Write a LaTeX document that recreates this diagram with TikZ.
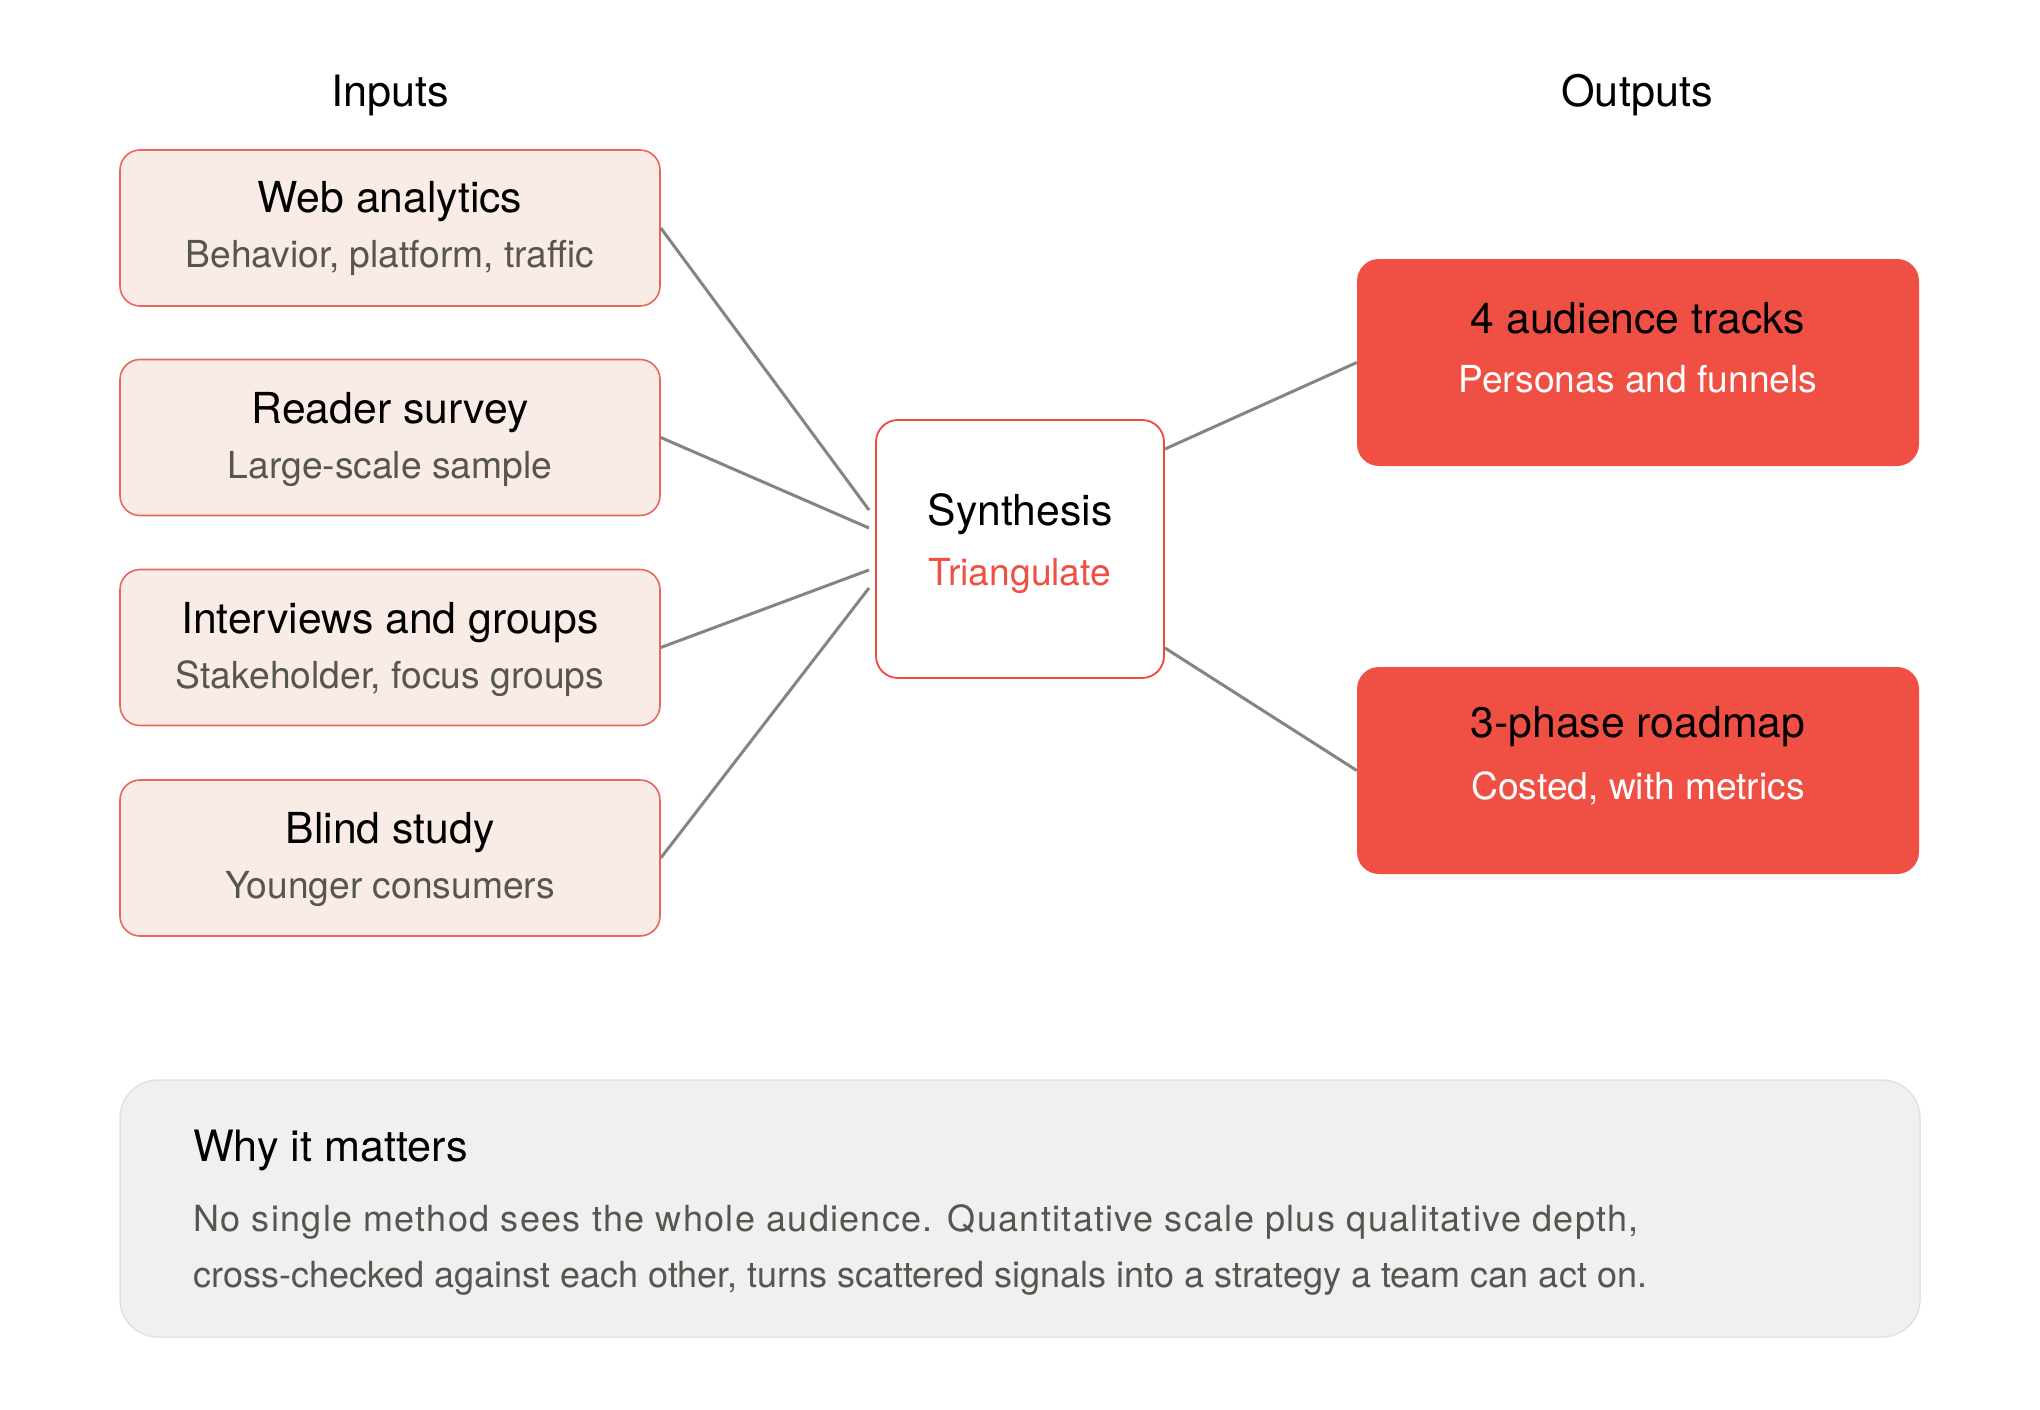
\documentclass[tikz,border=0pt]{standalone}
\usepackage{fontspec}
\setmainfont{TeX Gyre Heros}
\usetikzlibrary{calc}
\definecolor{inFill}{HTML}{F9EBE6}
\definecolor{inDraw}{HTML}{E8675C}
\definecolor{redC}{HTML}{F04F43}
\definecolor{synDraw}{HTML}{F04840}
\definecolor{lineC}{HTML}{85857F}
\definecolor{subC}{HTML}{57554F}
\definecolor{noteFill}{HTML}{F0F0F0}
\definecolor{noteDraw}{HTML}{E2E2E2}
\begin{document}
\begin{tikzpicture}[x=1pt,y=-1pt,
  inbox/.style={draw=inDraw, fill=inFill, line width=1.6pt, rounded corners=20pt, minimum width=540pt, minimum height=156pt, inner sep=0pt},
  outbox/.style={draw=none, fill=redC, rounded corners=22pt, minimum width=562pt, minimum height=207pt, inner sep=0pt},
  synbox/.style={draw=synDraw, fill=white, line width=1.8pt, rounded corners=22pt, minimum width=288pt, minimum height=258pt, inner sep=0pt},
  notebox/.style={draw=noteDraw, fill=noteFill, line width=1.5pt, rounded corners=38pt, minimum width=1800pt, minimum height=257pt, inner sep=0pt},
  ttl/.style={inner sep=0pt, font=\fontsize{42.7}{50}\selectfont, text=black},
  sub/.style={inner sep=0pt, font=\fontsize{37.2}{44}\selectfont, text=subC},
  hdr/.style={inner sep=0pt, font=\fontsize{43.2}{50}\selectfont, text=black},
  body/.style={inner sep=0pt, anchor=west, font=\fontsize{36}{44}\selectfont, text=subC},
  conn/.style={draw=lineC, line width=3pt}
]
\useasboundingbox (0,0) rectangle (2040,1410);
\fill[white] (0,0) rectangle (2040,1410);

% headers
\node[hdr] (hin) at (390,95) {Inputs};
\node[hdr] (hout) at (1637,95) {Outputs};

% input boxes
\node[inbox] (web) at (390,228) {};
\node[ttl] (webt) at (390,202) {Web analytics};
\node[sub] (webs) at (390,258) {Behavior, platform, traffic};

\node[inbox] (survey) at (390,437.5) {};
\node[ttl] (surveyt) at (390,412.5) {Reader survey};
\node[sub] (surveys) at (390,468.5) {Large-scale sample};

\node[inbox] (interv) at (390,647.5) {};
\node[ttl] (intervt) at (390,622.5) {Interviews and groups};
\node[sub] (intervs) at (390,678.5) {Stakeholder, focus groups};

\node[inbox] (blind) at (390,858) {};
\node[ttl] (blindt) at (390,833) {Blind study};
\node[sub] (blinds) at (390,889) {Younger consumers};

% synthesis
\node[synbox] (syn) at (1020,549) {};
\node[ttl] (synt) at (1020,514) {Synthesis};
\node[sub, text=redC] (syns) at (1020,576) {Triangulate};

% outputs
\node[outbox] (tracks) at (1638,362.5) {};
\node[ttl] (trackst) at (1638,318.5) {4 audience tracks};
\node[sub, text=white] (trackss) at (1638,379.5) {Personas and funnels};

\node[outbox] (road) at (1638,770.5) {};
\node[ttl] (roadt) at (1638,727) {3-phase roadmap};
\node[sub, text=white] (roads) at (1638,788) {Costed, with metrics};

% connector end points
\coordinate (s1) at (869,510);
\coordinate (s2) at (869,528);
\coordinate (s3) at (869,570);
\coordinate (s4) at (869,588);
\coordinate (o1) at (1165,449);
\coordinate (o2) at (1165,648);

\draw[conn] (web.east) -- (s1);
\draw[conn] (survey.east) -- (s2);
\draw[conn] (interv.east) -- (s3);
\draw[conn] (blind.east) -- (s4);
\draw[conn] (o1) -- (tracks.west);
\draw[conn] (o2) -- (road.west);

% note
\node[notebox] (note) at (1020,1208.5) {};
\node[hdr, anchor=west] (notet) at (193,1150) {Why it matters};
\node[body] (nl1) at (193,1222) {\addfontfeatures{LetterSpace=3.6}No single method sees the whole audience. Quantitative scale plus qualitative depth,};
\node[body] (nl2) at (193,1278) {cross-checked against each other, turns scattered signals into a strategy a team can act on.};
\end{tikzpicture}
\end{document}
